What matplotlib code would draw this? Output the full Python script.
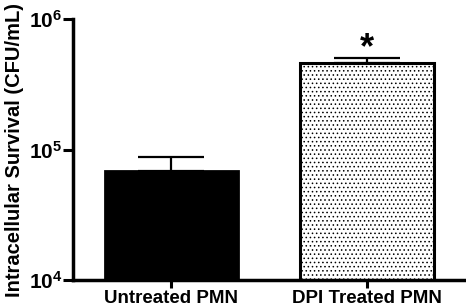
import numpy as np
import matplotlib
matplotlib.use("Agg")
import matplotlib.pyplot as plt

plt.rcParams['font.family'] = ['Liberation Sans', 'DejaVu Sans']
plt.rcParams['font.weight'] = 'bold'
plt.rcParams['mathtext.fontset'] = 'custom'
plt.rcParams['mathtext.default'] = 'bf'
plt.rcParams['mathtext.bf'] = 'Liberation Sans:bold'
plt.rcParams['mathtext.rm'] = 'Liberation Sans:bold'
plt.rcParams['hatch.linewidth'] = 0.6

groups = ['Untreated PMN', 'DPI Treated PMN']
means = [6.8e4, 4.6e5]
sems = [2.0e4, 0.45e5]
signif = ['', '*']

fig = plt.figure(figsize=(4.66, 3.07), dpi=100)
ax = fig.add_axes([0.157, 0.088, 0.841, 0.85])

x = np.arange(len(groups))
ax.bar(x[0], means[0], width=0.68, color='black', edgecolor='black', linewidth=2.0, zorder=2)
ax.bar(x[1], means[1], width=0.68, color='white', edgecolor='black', linewidth=2.2,
       hatch='....', zorder=2)
ax.errorbar(x, means, yerr=[[0, 0], sems], fmt='none', ecolor='black',
            elinewidth=1.6, capsize=24, capthick=1.6, zorder=1)

# significance mark just above the error cap
for xi, m, s, lab in zip(x, means, sems, signif):
    if lab:
        ax.annotate(lab, xy=(xi, m + s), xytext=(0, 0), textcoords='offset points',
                    ha='center', va='baseline', fontsize=26, fontweight='bold')

ax.set_yscale('log')
ax.set_ylim(1e4, 1e6)
ax.set_xlim(-0.5, 1.5)
ax.set_yticks([1e4, 1e5, 1e6])
ax.yaxis.set_minor_locator(matplotlib.ticker.NullLocator())
ax.set_xticks(x)
ax.set_xticklabels(groups, fontsize=13.5, fontweight='bold')
ax.tick_params(axis='y', labelsize=15, width=2.2, length=7, pad=1)
ax.tick_params(axis='x', width=2.2, length=6, pad=1.5)
ax.set_ylabel('Intracellular Survival (CFU/mL)', fontsize=14.5, fontweight='bold', labelpad=3)

for side in ['top', 'right']:
    ax.spines[side].set_visible(False)
for side in ['left', 'bottom']:
    ax.spines[side].set_linewidth(2.5)

fig.savefig('out.png', dpi=100)
